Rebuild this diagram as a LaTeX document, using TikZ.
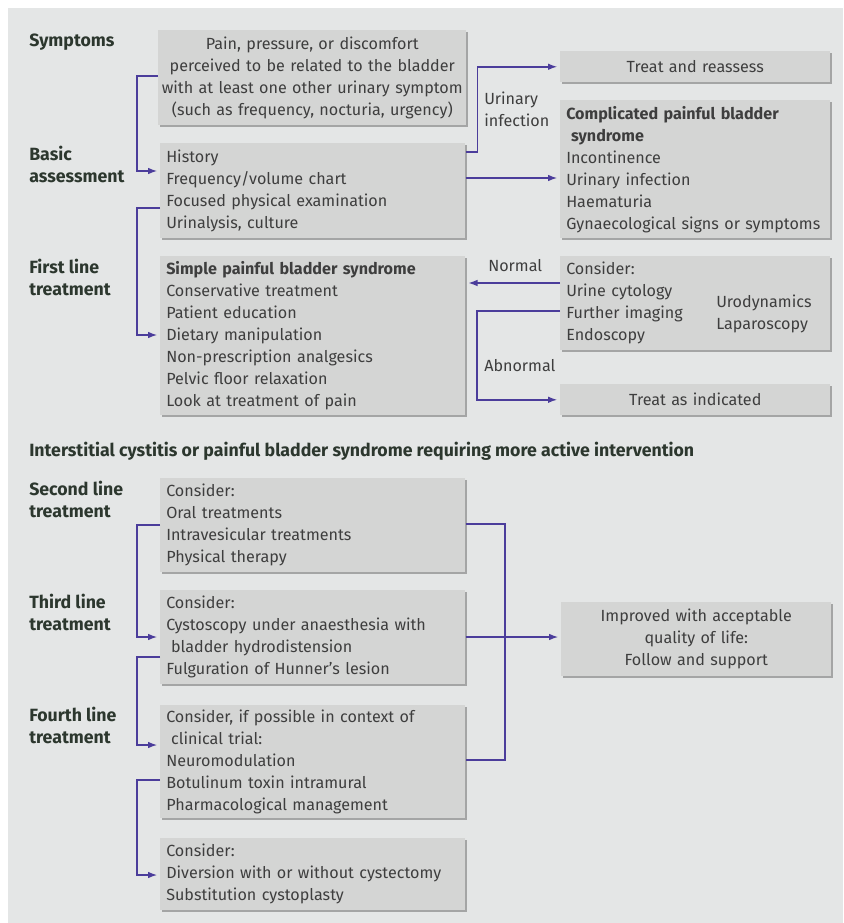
\documentclass[tikz,border=0pt]{standalone}
\usepackage{fontspec}
\setmainfont{Fira Sans}
\usetikzlibrary{arrows.meta, shadows}
\definecolor{fondogris}{HTML}{E4E6E6}
\definecolor{cajagris}{HTML}{D4D5D4}
\definecolor{sombragris}{HTML}{A4A5A5}
\definecolor{textogris}{HTML}{3E3E3E}
\definecolor{etiqverde}{HTML}{2C372E}
\definecolor{flechaazul}{HTML}{4B3D9B}

\begin{document}
\begin{tikzpicture}[x=0.75pt, y=-0.75pt,
  caja/.style={fill=cajagris, drop shadow={shadow xshift=1.3pt, shadow yshift=-1.3pt, fill=sombragris, opacity=1},
    anchor=north west, inner sep=0pt, align=left, text=textogris, font=\fontsize{12.1}{16.5}\selectfont},
  ancha/.style={minimum width=228.75pt, text width=219.75pt},
  estrecha/.style={minimum width=202.5pt, text width=193.5pt},
  etiqueta/.style={anchor=north west, inner sep=0pt, align=left, text=etiqverde, font=\fontsize{13.3}{16.5}\selectfont\bfseries},
  rotulo/.style={anchor=west, inner sep=0pt, align=left, text=textogris, font=\fontsize{12.1}{16.5}\selectfont},
  flujo/.style={draw=flechaazul, line width=1.15pt},
  flujoflecha/.style={flujo, -{Latex[length=7pt,width=5pt]}, shorten >=2pt}]

  % Fondo
  \useasboundingbox (0,0) rectangle (843,923);
  \fill[white] (0,0) rectangle (843,923);
  \fill[fondogris] (8,8) rectangle (843,923);

  % Etiquetas de la izquierda
  \node[etiqueta] (lsymp) at (29,34) {Symptoms};
  \node[etiqueta] (lbasic) at (29,146) {Basic\\assessment};
  \node[etiqueta] (lfirst) at (29,259) {First line\\treatment};
  \node[etiqueta] (lhead) at (29,442) {Interstitial cystitis or painful bladder syndrome requiring more active intervention};
  \node[etiqueta] (lsecond) at (29,481) {Second line\\treatment};
  \node[etiqueta] (lthird) at (29,594) {Third line\\treatment};
  \node[etiqueta] (lfourth) at (29,707) {Fourth line\\treatment};

  % Cajas de la parte superior
  \node[caja, align=center, minimum width=231pt, text width=229pt, minimum height=71.25pt] (symp) at (158,30)
    {Pain, pressure, or discomfort\\perceived to be related to the bladder\\with at least one other urinary symptom\\(such as frequency, nocturia, urgency)};
  \node[caja, ancha, minimum height=71.25pt] (basic) at (160,143)
    {History\\Frequency/volume chart\\Focused physical examination\\Urinalysis, culture};
  \node[caja, estrecha, align=center, minimum height=23.25pt] (reassess) at (560,51) {Treat and reassess};
  \node[caja, estrecha, minimum height=103.5pt] (compl) at (560,100)
    {\textbf{Complicated painful bladder}\\\hspace{0.3em}\textbf{syndrome}\\Incontinence\\Urinary infection\\Haematuria\\Gynaecological signs or symptoms};
  \node[caja, ancha, minimum height=119.25pt] (simple) at (160,256)
    {\textbf{Simple painful bladder syndrome}\\Conservative treatment\\Patient education\\Dietary manipulation\\Non-prescription analgesics\\Pelvic floor relaxation\\Look at treatment of pain};
  \node[caja, estrecha, minimum height=70.5pt] (consider) at (560,256)
    {Consider:\\Urine cytology\\Further imaging\\Endoscopy};
  \node[rotulo] (urodyn) at (716,314) {Urodynamics\\Laparoscopy};
  \node[caja, estrecha, align=center, minimum height=23.25pt] (indicated) at (560,384) {Treat as indicated};

  % Cajas de la parte inferior
  \node[caja, ancha, minimum height=70.5pt] (second) at (160,478)
    {Consider:\\Oral treatments\\Intravesicular treatments\\Physical therapy};
  \node[caja, ancha, minimum height=70.5pt] (third) at (160,590)
    {Consider:\\Cystoscopy under anaesthesia with\\\hspace{0.3em}bladder hydrodistension\\Fulguration of Hunner's lesion};
  \node[caja, estrecha, align=center, minimum height=55.5pt] (improved) at (561,602)
    {Improved with acceptable\\quality of life:\\Follow and support};
  \node[caja, ancha, minimum height=84.75pt] (fourth) at (160,705)
    {Consider, if possible in context of\\\hspace{0.3em}clinical trial:\\Neuromodulation\\Botulinum toxin intramural\\Pharmacological management};
  \node[caja, ancha, minimum height=54pt] (fifth) at (160,838)
    {Consider:\\Diversion with or without cystectomy\\Substitution cystoplasty};

  % Rotulos de las flechas
  \node[rotulo] (linf) at (484,109) {Urinary\\infection};
  \node[rotulo] (lnormal) at (488,266) {Normal};
  \node[rotulo] (labnormal) at (484,366) {Abnormal};

  % Flechas de la parte superior
  \draw[flujoflecha] (symp.west |- 0,76) -- ++(-21,0) |- (basic.west |- 0,171);
  \draw[flujoflecha] (basic.west |- 0,208) -- ++(-23,0) |- (simple.west |- 0,335);
  \draw[flujoflecha] (basic.east |- 0,152) -- ++(12,0) |- (reassess.west);
  \draw[flujoflecha] (basic.east |- 0,178) -- (compl.west |- 0,178);
  \draw[flujoflecha] (consider.west |- 0,283) -- (simple.east |- 0,283);
  \draw[flujoflecha] (consider.west |- 0,311) -- ++(-83,0) |- (indicated.west);

  % Flechas de la parte inferior
  \draw[flujoflecha] (second.west |- 0,525) -- ++(-23,0) |- (third.west |- 0,637);
  \draw[flujoflecha] (third.west |- 0,657) -- ++(-23,0) |- (fourth.west |- 0,745);
  \draw[flujoflecha] (fourth.west |- 0,780) -- ++(-23,0) |- (fifth.west |- 0,875);

  % Union hacia la caja final
  \coordinate (union) at (505,637);
  \draw[flujo] (second.east |- 0,524) -| (union) |- (fourth.east |- 0,760);
  \draw[flujoflecha] (third.east |- 0,637) -- (improved.west |- 0,637);

\end{tikzpicture}
\end{document}
